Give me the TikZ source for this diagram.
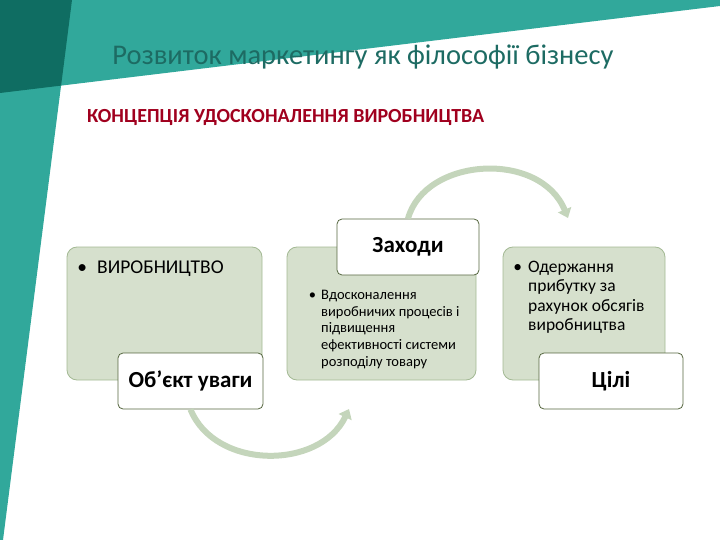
\documentclass[tikz,border=0pt]{standalone}
\usepackage{fontspec}
\setmainfont{Carlito}
\usetikzlibrary{arrows.meta}
\definecolor{teallight}{HTML}{31A89B}
\definecolor{tealdark}{HTML}{0F6D62}
\definecolor{titleteal}{HTML}{1D6B63}
\definecolor{conceptred}{HTML}{A0001E}
\definecolor{boxfill}{HTML}{D6E0CD}
\definecolor{boxline}{HTML}{A3B994}
\definecolor{labelline}{HTML}{55663F}
\definecolor{arcgreen}{HTML}{C4D5BB}
\tikzset{
  greenbox/.style={draw=boxline, line width=0.8pt, fill=boxfill, rounded corners=10pt, minimum height=133pt},
  labelbox/.style={draw=labelline, line width=0.8pt, fill=white, rounded corners=5pt, minimum height=56pt, font=\bfseries\fontsize{23}{27}\selectfont},
  boxtext/.style={anchor=north west, inner sep=0pt, align=left},
  cycarrow/.style={draw=arcgreen, line width=6pt, -{Triangle[width=14pt,length=9pt]}}
}
\begin{document}
\begin{tikzpicture}[x=1pt, y=-1pt]
  \useasboundingbox (0,0) rectangle (720,540);
  \fill[teallight] (0,0) -- (720,0) -- (720,6) -- (0,93) -- cycle;
  \fill[teallight] (0,0) -- (72,0) -- (3,540) -- (0,540) -- cycle;
  \fill[tealdark] (0,0) -- (72,0) -- (61.1,85.6) -- (0,93) -- cycle;
  \node[text=titleteal, font=\fontsize{28.5}{33}\selectfont] (title) at (363,57)
    {Розвиток маркетингу як філософії бізнесу};
  \node[anchor=west, inner sep=0pt, text=conceptred, font=\bfseries\fontsize{20}{24}\selectfont] (concept) at (87,117)
    {КОНЦЕПЦІЯ УДОСКОНАЛЕННЯ ВИРОБНИЦТВА};
  \node[greenbox, minimum width=195pt] (focusbox) at (164.5,313.5) {};
  \node[greenbox, minimum width=189pt] (meansbox) at (381.5,313.5) {};
  \node[greenbox, minimum width=162pt] (goalbox) at (584,313.5) {};
  \node[boxtext, font=\fontsize{19.5}{23}\selectfont] (focustext) at (97,261)
    {\llap{\textbullet\hspace{10pt}}ВИРОБНИЦТВО};
  \node[boxtext, font=\fontsize{14.5}{16.7}\selectfont] (meanstext) at (321,290)
    {\llap{\textbullet\hspace{5pt}}Вдосконалення\\виробничих процесів і\\підвищення\\ефективності системи\\розподілу товару};
  \node[boxtext, font=\fontsize{17.5}{19.3}\selectfont] (goaltext) at (528,261)
    {\llap{\textbullet\hspace{6pt}}Одержання\\прибутку за\\рахунок обсягів\\виробництва};
  \node[labelbox, minimum width=145pt] (focus) at (190.5,381) {Об’єкт уваги};
  \node[labelbox, minimum width=142pt] (means) at (408,247) {Заходи};
  \node[labelbox, minimum width=144pt] (goal) at (611,381) {Цілі};
  \coordinate (meansin) at (349,409);
  \coordinate (goalin) at (568,218);
  \draw[cycarrow] (focus.south) .. controls (215,470) and (320,470) .. (meansin);
  \draw[cycarrow] (means.north) .. controls (425,157) and (540,150) .. (goalin);
\end{tikzpicture}
\end{document}
